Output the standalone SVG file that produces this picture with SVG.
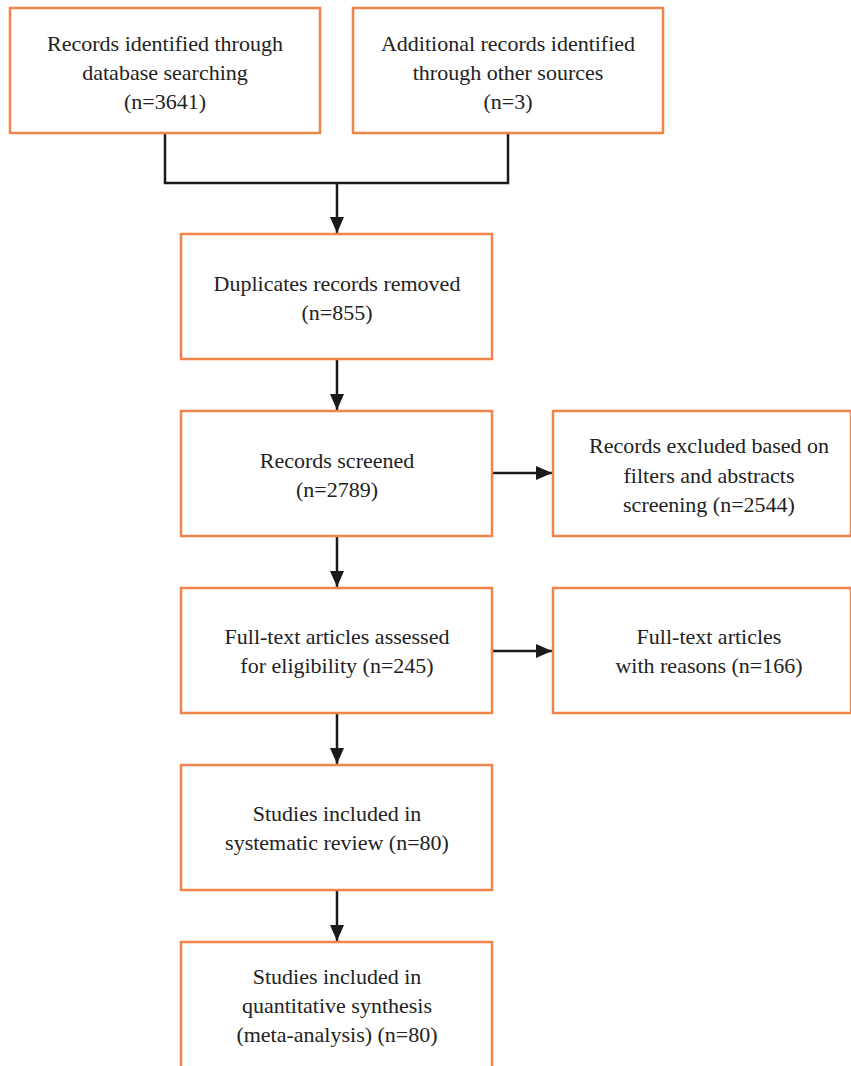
<svg xmlns="http://www.w3.org/2000/svg" width="851" height="1066" viewBox="0 0 851 1066">
<style>
.box{fill:#fff;stroke:#F0844A;stroke-width:2.5}
.t{font-family:"Liberation Serif","DejaVu Serif",serif;font-size:22px;fill:#222;text-anchor:middle}
.c{fill:none;stroke:#1a1a1a;stroke-width:2.5}
</style>
<defs>
<marker id="ah" markerWidth="16" markerHeight="14" refX="16" refY="7" orient="auto" markerUnits="userSpaceOnUse" viewBox="0 0 16 14">
<path d="M0,0 L16,7 L0,14 z" fill="#1a1a1a"/>
</marker>
</defs>
<rect width="851" height="1066" fill="#fff"/>
<g id="connectors">
<path class="c" d="M165,133 V183 H508 V133"/>
<path class="c" d="M337,183 V233" marker-end="url(#ah)"/>
<path class="c" d="M337,359 V410" marker-end="url(#ah)"/>
<path class="c" d="M492,473 H552" marker-end="url(#ah)"/>
<path class="c" d="M337,536 V587" marker-end="url(#ah)"/>
<path class="c" d="M492,651 H552" marker-end="url(#ah)"/>
<path class="c" d="M337,713 V764" marker-end="url(#ah)"/>
<path class="c" d="M337,890 V941" marker-end="url(#ah)"/>
</g>
<g id="n1"><rect class="box" x="10" y="8" width="310" height="125"/>
<text class="t" x="165" y="51">Records identified through</text>
<text class="t" x="165" y="80">database searching</text>
<text class="t" x="165" y="109">(n=3641)</text></g>
<g id="n2"><rect class="box" x="353" y="8" width="310" height="125"/>
<text class="t" x="508" y="51">Additional records identified</text>
<text class="t" x="508" y="80">through other sources</text>
<text class="t" x="508" y="109">(n=3)</text></g>
<g id="n3"><rect class="box" x="181" y="234" width="311" height="125"/>
<text class="t" x="337" y="291">Duplicates records removed</text>
<text class="t" x="337" y="320">(n=855)</text></g>
<g id="n4"><rect class="box" x="181" y="411" width="311" height="125"/>
<text class="t" x="337" y="468">Records screened</text>
<text class="t" x="337" y="497">(n=2789)</text></g>
<g id="n5"><rect class="box" x="553" y="411" width="298" height="125"/>
<text class="t" x="709" y="453">Records excluded based on</text>
<text class="t" x="709" y="483">filters and abstracts</text>
<text class="t" x="709" y="512">screening (n=2544)</text></g>
<g id="n6"><rect class="box" x="181" y="588" width="311" height="125"/>
<text class="t" x="337" y="644">Full-text articles assessed</text>
<text class="t" x="337" y="673">for eligibility (n=245)</text></g>
<g id="n7"><rect class="box" x="553" y="588" width="298" height="125"/>
<text class="t" x="709" y="644">Full-text articles</text>
<text class="t" x="709" y="673">with reasons (n=166)</text></g>
<g id="n8"><rect class="box" x="181" y="765" width="311" height="125"/>
<text class="t" x="337" y="821">Studies included in</text>
<text class="t" x="337" y="850">systematic review (n=80)</text></g>
<g id="n9"><rect class="box" x="181" y="942" width="311" height="130"/>
<text class="t" x="337" y="984">Studies included in</text>
<text class="t" x="337" y="1013">quantitative synthesis</text>
<text class="t" x="337" y="1042">(meta-analysis) (n=80)</text></g>
</svg>
